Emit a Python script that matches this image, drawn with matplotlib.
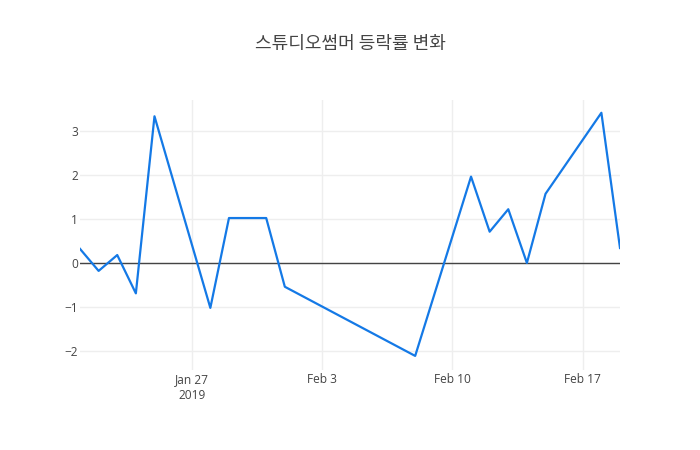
import datetime as dt

import matplotlib
matplotlib.use('Agg')
import matplotlib.pyplot as plt

dates = ['2019-01-21', '2019-01-22', '2019-01-23', '2019-01-24', '2019-01-25',
         '2019-01-28', '2019-01-29', '2019-01-31', '2019-02-01', '2019-02-08',
         '2019-02-11', '2019-02-12', '2019-02-13', '2019-02-14', '2019-02-15',
         '2019-02-18', '2019-02-19']
changes = [0.32, -0.18, 0.18, -0.69, 3.33,
           -1.02, 1.02, 1.02, -0.54, -2.11,
           1.96, 0.71, 1.22, 0.0, 1.57,
           3.41, 0.34]
tick_dates = ['2019-01-27', '2019-02-03', '2019-02-10', '2019-02-17']
tick_labels = ['Jan 27\n2019', 'Feb 3', 'Feb 10', 'Feb 17']
title = '스튜디오썸머 등락률 변화'

x = [dt.datetime.strptime(d, '%Y-%m-%d') for d in dates]
xt = [dt.datetime.strptime(d, '%Y-%m-%d') for d in tick_dates]

fig = plt.figure(figsize=(7, 4.5), dpi=100)
ax = fig.add_axes([80 / 700, 80 / 450, 540 / 700, 270 / 450])

ax.plot(x, changes, color='#1479e6', linewidth=1.6, zorder=3)
ax.axhline(0, color='#444444', linewidth=1, zorder=2)

ax.set_xlim(x[0], x[-1])
ax.set_ylim(-2.43, 3.70)
ax.set_xticks(xt)
ax.set_xticklabels(tick_labels)
ax.set_yticks([-2, -1, 0, 1, 2, 3])
ax.set_yticklabels(['\u22122', '\u22121', '0', '1', '2', '3'])

ax.grid(True, color='#eeeeee', linewidth=1, zorder=0)
for s in ax.spines.values():
    s.set_visible(False)
ax.tick_params(length=0, labelsize=8.6, labelcolor='#444444',
               labelfontfamily='Open Sans')
ax.tick_params(axis='x', pad=2)
ax.tick_params(axis='y', pad=1.5)
for lbl in ax.get_xticklabels():
    lbl.set_linespacing(1.3)

fig.text(0.5, 0.902, title, ha='center', va='center', fontsize=13,
         color='#444444', family=['Noto Sans CJK KR', 'DejaVu Sans'])

fig.savefig('out.png', dpi=100)
